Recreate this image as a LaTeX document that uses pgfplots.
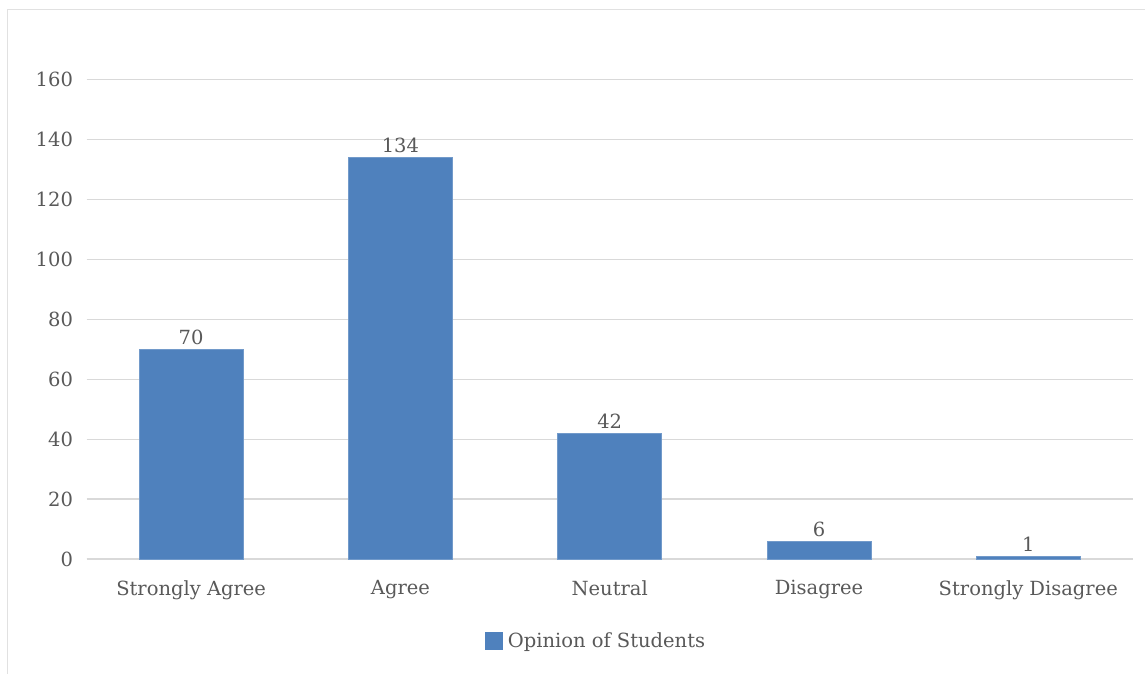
\documentclass[border=0pt]{standalone}
\usepackage{pgfplots}
\pgfplotsset{compat=1.18}
\usepackage{fontspec}
\setmainfont{DejaVu Serif}
\definecolor{barblue}{HTML}{4F81BD}
\definecolor{txt}{HTML}{595959}
\definecolor{gridc}{HTML}{D9D9D9}
\begin{document}
\begin{tikzpicture}
\useasboundingbox (0pt,0pt) rectangle (1145pt,-674pt);
\fill[white] (0pt,0pt) rectangle (1145pt,-674pt);
\draw[gridc!80!white,line width=1.2pt] (7.5pt,-9.5pt) rectangle (1160pt,-690pt);
\begin{axis}[
  at={(86.5pt,-559pt)}, anchor=south west,
  scale only axis, width=1046.5pt, height=479.7pt,
  xmin=-0.5, xmax=4.5, ymin=0, ymax=160,
  ytick={0,20,...,160},
  xtick=data,
  xticklabels={Strongly Agree,Agree,Neutral,Disagree,Strongly Disagree},
  ymajorgrids, grid style={gridc,line width=1.1pt},
  axis y line*=left, axis x line*=bottom,
  y axis line style={draw=none},
  x axis line style={gridc,line width=1.3pt,-},
  major tick length=0pt,
  tick label style={font=\fontsize{19.5}{22}\selectfont, text=txt},
  /pgf/number format/assume math mode=true,
  yticklabel style={xshift=-10pt},
  xticklabel style={yshift=-18pt},
  ybar, bar width=0.497,
  nodes near coords,
  every node near coord/.append style={font=\fontsize{19.5}{22}\selectfont, text=txt, yshift=1pt},
  clip=false,
  legend style={at={(0.4885,-0.171)}, anchor=center, draw=none, fill=none,
    font=\fontsize{19.5}{22}\selectfont, text=txt, legend columns=1,
    nodes={inner xsep=5pt}},
  legend image code/.code={\fill[barblue] (0pt,-8.5pt) rectangle (17pt,8.5pt);},
]
\addplot[fill=barblue, draw=barblue!80!white, line width=0.6pt] coordinates {(0,70) (1,134) (2,42) (3,6) (4,1)};
\legend{Opinion of Students}
\end{axis}
\end{tikzpicture}
\end{document}
